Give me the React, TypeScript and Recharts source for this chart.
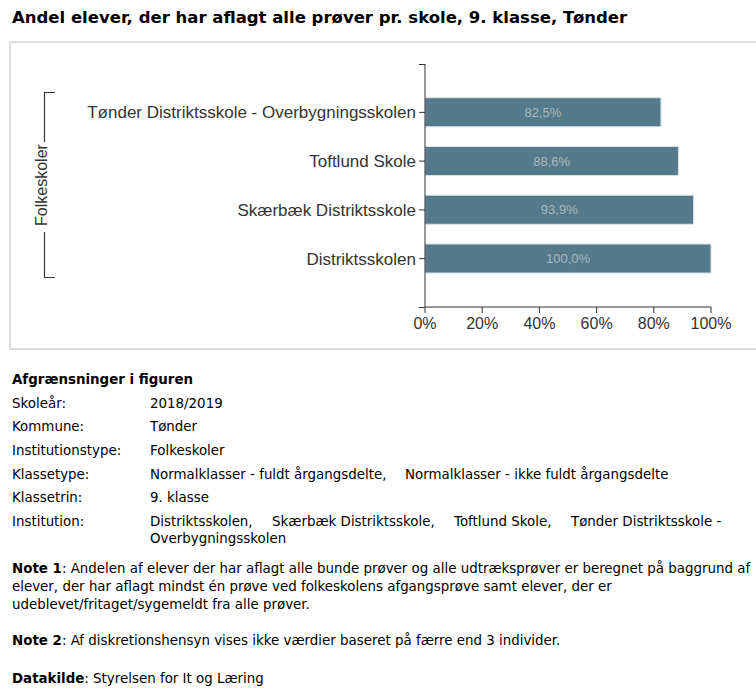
import React from "react";
import { BarChart, Bar, XAxis, YAxis, LabelList } from "recharts";

const schools = [
  "Tønder Distriktsskole - Overbygningsskolen",
  "Toftlund Skole",
  "Skærbæk Distriktsskole",
  "Distriktsskolen",
];
const shares = [82.5, 88.6, 93.9, 100.0];
const xTicks = [0, 20, 40, 60, 80, 100];
const groupLabel = "Folkeskoler";

const data = schools.map((name, i) => ({ name, value: shares[i] }));

const fmt = (v: number) => v.toFixed(1).replace(".", ",") + "%";

const bodyFont = "'DejaVu Sans', sans-serif";
const chartFont = "'Liberation Sans', Arial, sans-serif";

const Line = ({ y, x = 12, children, bold = false, size = 13.4 }: any) => (
  <div
    style={{
      position: "absolute",
      left: x,
      top: y - 9,
      height: 18,
      lineHeight: "18px",
      fontFamily: bodyFont,
      fontSize: size,
      fontWeight: bold ? "bold" : "normal",
      color: "#000",
      whiteSpace: "nowrap",
    }}
  >
    {children}
  </div>
);

export default function App() {
  return (
    <div
      style={{
        position: "absolute",
        left: 0,
        top: 0,
        width: 756,
        height: 694,
        overflow: "hidden",
        background: "#fff",
      }}
    >
      <div
        style={{
          position: "absolute",
          left: 12,
          top: 6,
          height: 24,
          lineHeight: "24px",
          fontFamily: bodyFont,
          fontSize: 16.5,
          fontWeight: "bold",
          color: "#000",
          whiteSpace: "nowrap",
        }}
      >
        Andel elever, der har aflagt alle prøver pr. skole, 9. klasse, Tønder
      </div>
      <div
        style={{
          position: "absolute",
          left: 9,
          top: 41,
          width: 780,
          height: 305,
          border: "2px solid #dcdcdc",
        }}
      />
      <div style={{ position: "absolute", left: 0, top: 0 }}>
        <BarChart
          width={756}
          height={349}
          data={data}
          layout="vertical"
          margin={{ top: 64, right: 45, bottom: 12, left: 0 }}
          barCategoryGap="20%"
        >
          <XAxis
            type="number"
            domain={[0, 100]}
            ticks={xTicks}
            tickFormatter={(v: number) => v + "%"}
            axisLine={{ stroke: "#333" }}
            tickLine={{ stroke: "#333" }}
            tickSize={6}
            tickMargin={5}
            height={30}
            tick={{ fill: "#333", fontSize: 16, fontFamily: chartFont }}
            interval={0}
          />
          <YAxis
            type="category"
            dataKey="name"
            width={425}
            padding={{ top: 24, bottom: 24 }}
            axisLine={{ stroke: "#333" }}
            tickLine={{ stroke: "#333" }}
            tickSize={6}
            tickMargin={3}
            tick={{ fill: "#333", fontSize: 17, fontFamily: chartFont }}
            interval={0}
          />
          <Bar
            dataKey="value"
            fill="#557a8b"
            stroke="#d6e0e5"
            strokeWidth={1}
            isAnimationActive={false}
          >
            <LabelList
              dataKey="value"
              position="center"
              formatter={(v: any) => fmt(Number(v))}
              fill="#aab7be"
              fontSize={13}
              fontFamily={chartFont}
            />
          </Bar>
        </BarChart>
      </div>
      <svg
        width={756}
        height={349}
        style={{ position: "absolute", left: 0, top: 0, pointerEvents: "none" }}
      >
        <path d="M419,64.5H425" stroke="#333" fill="none" />
        <path d="M419,307.5H425" stroke="#333" fill="none" />
        <path d="M55,92.5H44.5V142" stroke="#333" fill="none" strokeWidth={1.2} />
        <path d="M44.5,232V277.5H55" stroke="#333" fill="none" strokeWidth={1.2} />
        <text
          transform="translate(47,185) rotate(-90)"
          textAnchor="middle"
          fontFamily={chartFont}
          fontSize={16}
          fill="#333"
        >
          {groupLabel}
        </text>
      </svg>

      <Line y={380} bold>Afgrænsninger i figuren</Line>
      <Line y={404}>Skoleår:</Line>
      <Line y={404} x={150}>2018/2019</Line>
      <Line y={427}>Kommune:</Line>
      <Line y={427} x={150}>Tønder</Line>
      <Line y={451}>Institutionstype:</Line>
      <Line y={451} x={150}>Folkeskoler</Line>
      <Line y={475}>Klassetype:</Line>
      <Line y={475} x={150}>Normalklasser - fuldt årgangsdelte,</Line>
      <Line y={475} x={405}>Normalklasser - ikke fuldt årgangsdelte</Line>
      <Line y={498}>Klassetrin:</Line>
      <Line y={498} x={150}>9. klasse</Line>
      <Line y={522}>Institution:</Line>
      <Line y={522} x={150}>Distriktsskolen,</Line>
      <Line y={522} x={272}>Skærbæk Distriktsskole,</Line>
      <Line y={522} x={454}>Toftlund Skole,</Line>
      <Line y={522} x={571}>Tønder Distriktsskole -</Line>
      <Line y={539} x={150}>Overbygningsskolen</Line>

      <Line y={569}><b>Note 1</b>: Andelen af elever der har aflagt alle bunde prøver og alle udtræksprøver er beregnet på baggrund af</Line>
      <Line y={587}>elever, der har aflagt mindst én prøve ved folkeskolens afgangsprøve samt elever, der er</Line>
      <Line y={605}>udeblevet/fritaget/sygemeldt fra alle prøver.</Line>
      <Line y={641}><b>Note 2</b>: Af diskretionshensyn vises ikke værdier baseret på færre end 3 individer.</Line>
      <Line y={679}><b>Datakilde</b>: Styrelsen for It og Læring</Line>
    </div>
  );
}
